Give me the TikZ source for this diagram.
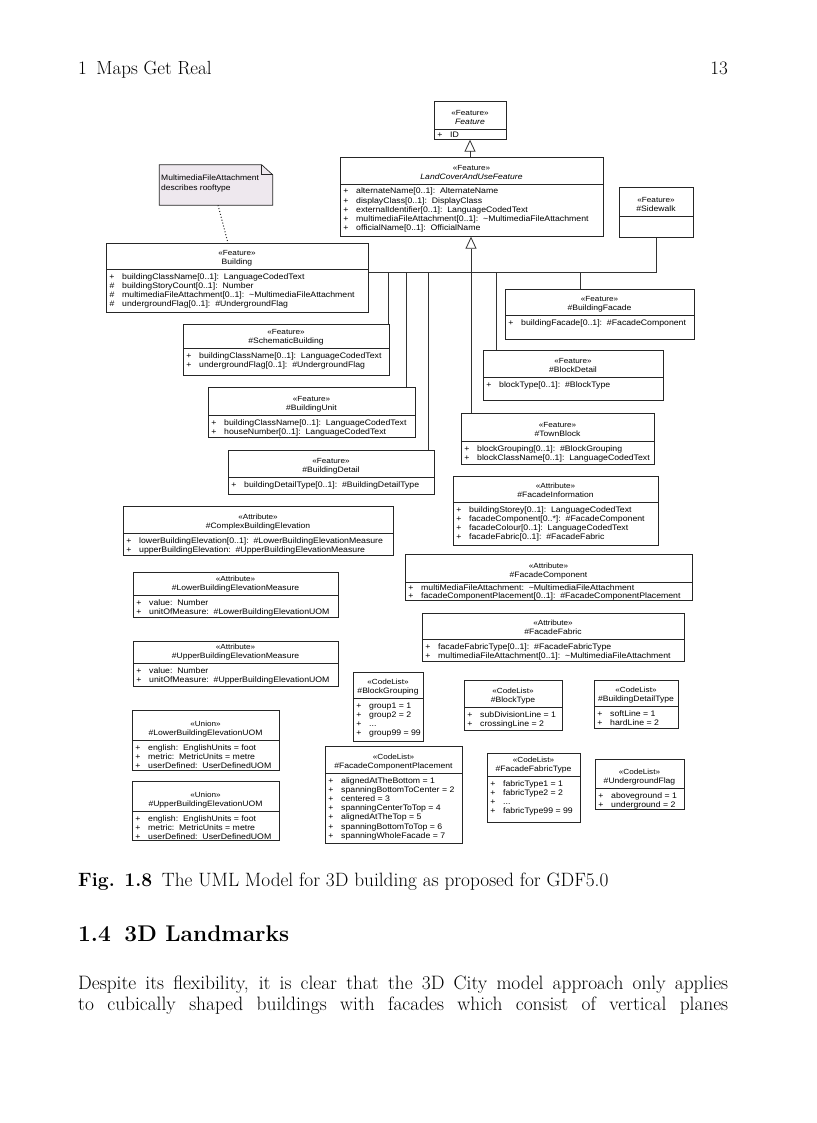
\documentclass[tikz,border=0pt]{standalone}
\usepackage{fontspec}
\newfontfamily\umlfont[FakeStretch=1.1]{Liberation Sans}
\newfontfamily\umlattfont[FakeStretch=1.09]{Liberation Sans}
\usetikzlibrary{arrows.meta}
\definecolor{notefill}{RGB}{238,232,238}
\tikzset{
  x=1pt, y=-1pt,
  umlbox/.style={draw=black!85, line width=0.7pt, inner sep=0pt, anchor=north west},
  sepline/.style={draw=black!85, line width=0.6pt},
  conn/.style={draw=black!80, line width=0.8pt},
  gen/.style={conn, -{Triangle[open, length=12pt, width=11pt, line width=0.8pt]}},
  stt/.style={font=\umlfont\fontsize{7.4}{8}\selectfont, inner sep=0pt},
  cnm/.style={font=\umlfont\fontsize{7.8}{9}\selectfont, inner sep=0pt},
  att/.style={font=\umlattfont\fontsize{8}{9}\selectfont, inner sep=0pt},
  pagetext/.style={inner sep=0pt, anchor=base west},
}
\newcommand\attrfirst{10}
\newcommand\attrgap{9.2}
\newcommand\ubox[6]{%
  \node[umlbox, minimum width={#4-#2}, minimum height={#6-#3}] (#1) at (#2,#3) {};
  \draw[sepline] (#2,#5) -- (#4,#5);
  \pgfmathsetmacro\tmpm{(#2+#4)/2}%
  \expandafter\xdef\csname ux#1\endcsname{#2}%
  \expandafter\xdef\csname um#1\endcsname{\tmpm}%
  \expandafter\xdef\csname us#1\endcsname{#5}%
}
\newcommand\uhead[3]{%
  \pgfmathsetmacro\hx{\csname um#1\endcsname}%
  \pgfmathsetmacro\hya{\csname us#1\endcsname-16.5}%
  \pgfmathsetmacro\hyb{\csname us#1\endcsname-7}%
  \node[stt] (#1-st) at (\hx,\hya) {#2};
  \node[cnm] (#1-cn) at (\hx,\hyb) {#3};
}
\newcommand\uattr[4]{%
  \pgfmathsetmacro\ay{\csname us#1\endcsname+\attrfirst+\attrgap*(#2-1)}%
  \pgfmathsetmacro\axa{\csname ux#1\endcsname+6}%
  \pgfmathsetmacro\axb{\csname ux#1\endcsname+16}%
  \node[att, anchor=base] (#1-s#2) at (\axa,\ay) {#3};
  \node[att, anchor=base west] (#1-a#2) at (\axb,\ay) {#4};
}
\newcommand\MFA{\textasciitilde MultimediaFileAttachment}
\begin{document}
\begin{tikzpicture}
\fill[white] (0,0) rectangle (816,1123);
\useasboundingbox (0,0) rectangle (816,1123);

% page text
\node[pagetext, font=\fontsize{19}{22}\selectfont] (rh) at (78,75) {1\enspace Maps Get Real};
\node[pagetext, anchor=base east, font=\fontsize{19}{22}\selectfont] (pg) at (728,75) {13};
\node[pagetext, font=\fontsize{19.3}{22}\selectfont] (cap) at (78,886) {\textbf{Fig. 1.8}\enspace The UML Model for 3D building as proposed for GDF5.0};
\node[pagetext, font=\fontsize{22.7}{26}\selectfont\bfseries] (sec) at (78,941) {1.4\hspace{0.6em}3D Landmarks};
\node[pagetext, font=\fontsize{19.4}{22}\selectfont] (body1) at (78,989) {\makebox[650pt][s]{Despite its flexibility, it is clear that the 3D City model approach only applies}};
\node[pagetext, font=\fontsize{19.4}{22}\selectfont] (body2) at (78,1010) {\makebox[650pt][s]{to cubically shaped buildings with facades which consist of vertical planes}};

% classes
\ubox{feature}{434}{101}{506}{129}{139}
\uhead{feature}{«Feature»}{\itshape Feature}
\renewcommand\attrfirst{8.5}
\uattr{feature}{1}{+}{ID}
\renewcommand\attrfirst{10}

\ubox{landcover}{340}{157}{603}{184}{236}
\uhead{landcover}{«Feature»}{\itshape LandCoverAndUseFeature}
\uattr{landcover}{1}{+}{alternateName[0..1]:\ \ AlternateName}
\uattr{landcover}{2}{+}{displayClass[0..1]:\ \ DisplayClass}
\uattr{landcover}{3}{+}{externalIdentifier[0..1]:\ \ LanguageCodedText}
\uattr{landcover}{4}{+}{multimediaFileAttachment[0..1]:\ \ \MFA}
\uattr{landcover}{5}{+}{officialName[0..1]:\ \ OfficialName}

\ubox{sidewalk}{619}{187}{693}{216}{237}
\uhead{sidewalk}{«Feature»}{\#Sidewalk}

\ubox{building}{106}{243}{368}{269}{312}
\uhead{building}{«Feature»}{Building}
\uattr{building}{1}{+}{buildingClassName[0..1]:\ \ LanguageCodedText}
\uattr{building}{2}{\#}{buildingStoryCount[0..1]:\ \ Number}
\uattr{building}{3}{\#}{multimediaFileAttachment[0..1]:\ \ \MFA}
\uattr{building}{4}{\#}{undergroundFlag[0..1]:\ \ \#UndergroundFlag}

\ubox{schem}{183}{324}{389}{348}{375}
\uhead{schem}{«Feature»}{\#SchematicBuilding}
\uattr{schem}{1}{+}{buildingClassName[0..1]:\ \ LanguageCodedText}
\uattr{schem}{2}{+}{undergroundFlag[0..1]:\ \ \#UndergroundFlag}

\ubox{bfacade}{505}{289}{694}{315}{339}
\uhead{bfacade}{«Feature»}{\#BuildingFacade}
\uattr{bfacade}{1}{+}{buildingFacade[0..1]:\ \ \#FacadeComponent}

\ubox{blockdet}{483}{350}{663}{377}{400}
\uhead{blockdet}{«Feature»}{\#BlockDetail}
\uattr{blockdet}{1}{+}{blockType[0..1]:\ \ \#BlockType}

\ubox{unit}{208}{387}{415}{415}{437}
\uhead{unit}{«Feature»}{\#BuildingUnit}
\uattr{unit}{1}{+}{buildingClassName[0..1]:\ \ LanguageCodedText}
\uattr{unit}{2}{+}{houseNumber[0..1]:\ \ LanguageCodedText}

\ubox{town}{461}{413}{654}{441}{464}
\uhead{town}{«Feature»}{\#TownBlock}
\uattr{town}{1}{+}{blockGrouping[0..1]:\ \ \#BlockGrouping}
\uattr{town}{2}{+}{blockClassName[0..1]:\ \ LanguageCodedText}

\ubox{detail}{228}{450}{434}{477}{494}
\uhead{detail}{«Feature»}{\#BuildingDetail}
\uattr{detail}{1}{+}{buildingDetailType[0..1]:\ \ \#BuildingDetailType}

\ubox{finfo}{453}{476}{658}{502}{545}
\uhead{finfo}{«Attribute»}{\#FacadeInformation}
\uattr{finfo}{1}{+}{buildingStorey[0..1]:\ \ LanguageCodedText}
\uattr{finfo}{2}{+}{facadeComponent[0..*]:\ \ \#FacadeComponent}
\uattr{finfo}{3}{+}{facadeColour[0..1]:\ \ LanguageCodedText}
\uattr{finfo}{4}{+}{facadeFabric[0..1]:\ \ \#FacadeFabric}

\ubox{complex}{123}{506}{393}{533}{555}
\uhead{complex}{«Attribute»}{\#ComplexBuildingElevation}
\uattr{complex}{1}{+}{lowerBuildingElevation[0..1]:\ \ \#LowerBuildingElevationMeasure}
\uattr{complex}{2}{+}{upperBuildingElevation:\ \ \#UpperBuildingElevationMeasure}

\ubox{fcomp}{405}{554}{692}{582}{600}
\uhead{fcomp}{«Attribute»}{\#FacadeComponent}
\renewcommand\attrfirst{8}\renewcommand\attrgap{8.2}
\uattr{fcomp}{1}{+}{multiMediaFileAttachment:\ \ \MFA}
\uattr{fcomp}{2}{+}{facadeComponentPlacement[0..1]:\ \ \#FacadeComponentPlacement}
\renewcommand\attrfirst{10}\renewcommand\attrgap{9.2}

\ubox{ffab}{422}{613}{684}{639}{661}
\uhead{ffab}{«Attribute»}{\#FacadeFabric}
\uattr{ffab}{1}{+}{facadeFabricType[0..1]:\ \ \#FacadeFabricType}
\uattr{ffab}{2}{+}{multimediaFileAttachment[0..1]:\ \ \MFA}

\ubox{lowmeas}{133}{572}{338}{595}{617}
\uhead{lowmeas}{«Attribute»}{\#LowerBuildingElevationMeasure}
\uattr{lowmeas}{1}{+}{value:\ \ Number}
\uattr{lowmeas}{2}{+}{unitOfMeasure:\ \ \#LowerBuildingElevationUOM}

\ubox{upmeas}{133}{641}{338}{663}{686}
\uhead{upmeas}{«Attribute»}{\#UpperBuildingElevationMeasure}
\uattr{upmeas}{1}{+}{value:\ \ Number}
\uattr{upmeas}{2}{+}{unitOfMeasure:\ \ \#UpperBuildingElevationUOM}

\ubox{bgroup}{353}{672}{423}{698}{741}
\uhead{bgroup}{«CodeList»}{\#BlockGrouping}
\uattr{bgroup}{1}{+}{group1 = 1}
\uattr{bgroup}{2}{+}{group2 = 2}
\uattr{bgroup}{3}{+}{...}
\uattr{bgroup}{4}{+}{group99 = 99}

\ubox{btype}{464}{680}{562}{707}{730}
\uhead{btype}{«CodeList»}{\#BlockType}
\uattr{btype}{1}{+}{subDivisionLine = 1}
\uattr{btype}{2}{+}{crossingLine = 2}

\ubox{bdtype}{594}{680}{678}{706}{728}
\uhead{bdtype}{«CodeList»}{\#BuildingDetailType}
\uattr{bdtype}{1}{+}{softLine = 1}
\uattr{bdtype}{2}{+}{hardLine = 2}

\ubox{lowuom}{132}{710}{279}{740}{770}
\uhead{lowuom}{«Union»}{\#LowerBuildingElevationUOM}
\uattr{lowuom}{1}{+}{english:\ \ EnglishUnits = foot}
\uattr{lowuom}{2}{+}{metric:\ \ MetricUnits = metre}
\uattr{lowuom}{3}{+}{userDefined:\ \ UserDefinedUOM}

\ubox{upuom}{132}{781}{279}{811}{840}
\uhead{upuom}{«Union»}{\#UpperBuildingElevationUOM}
\uattr{upuom}{1}{+}{english:\ \ EnglishUnits = foot}
\uattr{upuom}{2}{+}{metric:\ \ MetricUnits = metre}
\uattr{upuom}{3}{+}{userDefined:\ \ UserDefinedUOM}

\ubox{fcplace}{325}{746}{462}{773}{843}
\uhead{fcplace}{«CodeList»}{\#FacadeComponentPlacement}
\uattr{fcplace}{1}{+}{alignedAtTheBottom = 1}
\uattr{fcplace}{2}{+}{spanningBottomToCenter = 2}
\uattr{fcplace}{3}{+}{centered = 3}
\uattr{fcplace}{4}{+}{spanningCenterToTop = 4}
\uattr{fcplace}{5}{+}{alignedAtTheTop = 5}
\uattr{fcplace}{6}{+}{spanningBottomToTop = 6}
\uattr{fcplace}{7}{+}{spanningWholeFacade = 7}

\ubox{fftype}{487}{753}{580}{776}{822}
\uhead{fftype}{«CodeList»}{\#FacadeFabricType}
\uattr{fftype}{1}{+}{fabricType1 = 1}
\uattr{fftype}{2}{+}{fabricType2 = 2}
\uattr{fftype}{3}{+}{...}
\uattr{fftype}{4}{+}{fabricType99 = 99}

\ubox{uflag}{595}{759}{684}{788}{809}
\uhead{uflag}{«CodeList»}{\#UndergroundFlag}
\uattr{uflag}{1}{+}{aboveground = 1}
\uattr{uflag}{2}{+}{underground = 2}

% note
\node[minimum width=113pt, minimum height=40pt, inner sep=0pt] (note) at (216,185) {};
\fill[notefill, draw=black!85, line width=0.7pt]
  (note.north west) -- ([xshift=-11pt]note.north east) -- ([yshift=-10pt]note.north east)
  -- (note.south east) -- (note.south west) -- cycle;
\draw[black!85, line width=0.6pt] ([xshift=-11pt]note.north east) -- ([xshift=-11pt,yshift=-10pt]note.north east) -- ([yshift=-10pt]note.north east);
\node[att, anchor=base west, font=\umlattfont\fontsize{7.8}{9}\selectfont] (notet1) at (161,181) {MultimediaFileAttachment};
\node[att, anchor=base west, font=\umlattfont\fontsize{7.8}{9}\selectfont] (notet2) at (161,191) {describes rooftype};
\coordinate (d2) at (228,0);
\draw[black!85, dotted, line width=1pt] ([xshift=2pt]note.south) -- (building.north -| d2);

% connectors
\coordinate (g1) at (470,0);
\coordinate (g2) at (471,0);
\draw[gen] (landcover.north -| g1) -- (feature.south -| g1);
\draw[gen] (town.north -| g2) -- (landcover.south -| g2);
\coordinate (j388) at (388,272);
\coordinate (j406) at (406,272);
\coordinate (j428) at (428,272);
\coordinate (j496) at (496,272);
\coordinate (j580) at (580,272);
\coordinate (j656) at (656,272);
\draw[conn] (building.east |- j388) -- (j656) -- (sidewalk.south -| j656);
\draw[conn] (j388) -- (schem.north -| j388);
\draw[conn] (j406) -- (unit.north -| j406);
\draw[conn] (j428) -- (detail.north -| j428);
\draw[conn] (j496) -- (blockdet.north -| j496);
\draw[conn] (j580) -- (bfacade.north -| j580);
\end{tikzpicture}
\end{document}
